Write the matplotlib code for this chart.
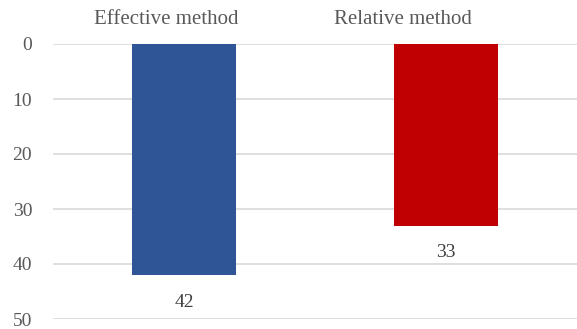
import matplotlib
matplotlib.use("Agg")
import numpy as np
from matplotlib import pyplot as plt

methods = ["Effective method", "Relative method"]
values = [42, 33]
colors = ["#2F5597", "#C00000"]
yticks = [0, 10, 20, 30, 40, 50]


def main():
    plt.rcParams['font.family'] = ['Liberation Serif', 'DejaVu Serif']
    fig = plt.figure(figsize=(5.77, 3.29), dpi=100)
    ax = fig.add_axes([53 / 577, 1 - 319 / 329, 1 - 53 / 577, 275 / 329])

    x = np.arange(len(methods))
    bars = ax.bar(x, values, width=0.4, color=colors, zorder=3)
    for b, v in zip(bars, values):
        ax.annotate(str(v), (b.get_x() + b.get_width() / 2, v), xytext=(0, -19.5),
                    textcoords="offset points", ha="center", va="center",
                    fontsize=14, color="#404040")

    ax.set_xlim(-0.5, 1.5)
    ax.set_ylim(50, 0)
    ax.set_yticks(yticks)
    ax.tick_params(axis="y", length=0, pad=15, labelsize=14, labelcolor="#595959")
    ax.yaxis.grid(True, color="#d9d9d9", linewidth=1.2, zorder=0)

    # category labels sit on top, a little left of the bars
    ax.xaxis.tick_top()
    ax.set_xticks([-0.067, 0.836])
    ax.set_xticklabels(methods)
    ax.tick_params(axis="x", length=0, pad=11, labelsize=15, labelcolor="#595959")

    for s in ax.spines.values():
        s.set_visible(False)

    fig.savefig("out.png", dpi=100)


if __name__ == "__main__":
    main()
